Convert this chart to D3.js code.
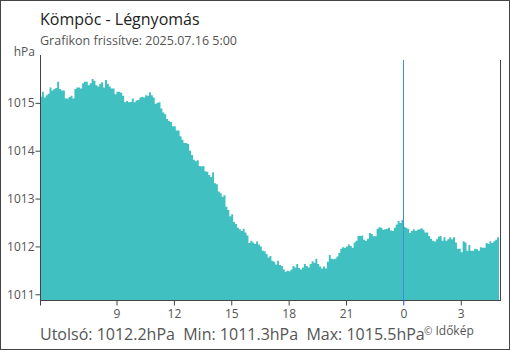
<!DOCTYPE html>
<html><head><meta charset="utf-8">
<script src="https://cdn.jsdelivr.net/npm/d3@7"></script>
<style>
html,body{margin:0;padding:0;background:#fff;}
svg{display:block;font-family:"Open Sans",sans-serif;}
</style></head>
<body><svg id="c" width="510" height="350"></svg>
<script>
const title = "Kömpöc - Légnyomás";
const subtitle = "Grafikon frissítve: 2025.07.16 5:00";
const unit = "hPa";
const startTime = new Date(2025, 6, 15, 5, 0);
const endTime = new Date(2025, 6, 16, 5, 0);
const stepMinutes = 6;
// pressure readings (hPa), one per 6 minutes from 2025.07.15 5:00
const pressure = [
1015.13,1015.23,1015.11,1015.16,1015.19,1015.32,1015.26,1015.29,1015.31,1015.44,
1015.29,1015.26,1015.26,1015.09,1015.09,1015.12,1015.15,1015.09,1015.29,1015.32,
1015.32,1015.30,1015.41,1015.44,1015.44,1015.37,1015.41,1015.50,1015.46,1015.37,
1015.34,1015.40,1015.43,1015.32,1015.48,1015.40,1015.34,1015.30,1015.30,1015.18,
1015.23,1015.23,1015.21,1015.15,1015.01,1015.04,1015.01,1015.02,1015.09,1015.01,
1015.05,1015.06,1015.11,1015.13,1015.11,1015.16,1015.15,1015.22,1015.16,1015.11,
1014.98,1015.00,1015.01,1014.88,1014.80,1014.76,1014.66,1014.62,1014.60,1014.51,
1014.51,1014.42,1014.42,1014.30,1014.23,1014.16,1014.16,1014.14,1014.00,1013.91,
1013.81,1013.78,1013.80,1013.68,1013.67,1013.68,1013.57,1013.56,1013.49,1013.45,
1013.55,1013.32,1013.30,1013.15,1013.11,1013.04,1013.07,1012.83,1012.76,1012.63,
1012.67,1012.51,1012.47,1012.39,1012.36,1012.32,1012.37,1012.29,1012.23,1012.07,
1012.12,1012.08,1012.05,1012.10,1012.04,1012.00,1011.91,1011.90,1011.84,1011.77,
1011.80,1011.70,1011.68,1011.62,1011.70,1011.61,1011.59,1011.52,1011.47,1011.49,
1011.48,1011.52,1011.59,1011.56,1011.63,1011.55,1011.52,1011.56,1011.63,1011.59,
1011.56,1011.63,1011.69,1011.66,1011.74,1011.63,1011.58,1011.54,1011.58,1011.54,
1011.68,1011.82,1011.74,1011.73,1011.74,1011.79,1011.86,1011.95,1011.98,1011.97,
1012.00,1012.04,1012.01,1011.97,1012.08,1012.12,1012.22,1012.22,1012.23,1012.14,
1012.12,1012.16,1012.28,1012.26,1012.21,1012.21,1012.37,1012.40,1012.39,1012.35,
1012.36,1012.37,1012.39,1012.33,1012.32,1012.39,1012.46,1012.53,1012.49,1012.55,
1012.41,1012.39,1012.37,1012.28,1012.32,1012.36,1012.32,1012.35,1012.36,1012.38,
1012.35,1012.29,1012.29,1012.22,1012.16,1012.12,1012.10,1012.15,1012.20,1012.22,
1012.12,1012.19,1012.12,1012.15,1012.19,1012.15,1012.19,1012.08,1011.95,1011.95,
1011.88,1012.11,1012.08,1011.91,1012.03,1011.91,1011.91,1011.95,1011.94,1011.91,
1011.98,1011.97,1011.97,1012.07,1012.05,1012.11,1012.07,1012.11,1012.14,1012.19
];
const yTicks = [1011, 1012, 1013, 1014, 1015];
const xTickHours = [9, 12, 15, 18, 21, 0, 3];
const yDomain = [1010.88, 1016];
const stats = ["Utolsó: 1012.2hPa", "Min: 1011.3hPa", "Max: 1015.5hPa"];
const credit = "Időkép";

const svg = d3.select("#c");
const W = 510, H = 350;
const L = 40, R = 499, T = 55, B = 300;

const data = pressure.map((v, i) => ({t: new Date(startTime.getTime() + i * stepMinutes * 60000), v}));
data.push({t: endTime, v: pressure[pressure.length - 1]});

const x = d3.scaleTime().domain([startTime, endTime]).range([L, R]);
const y = d3.scaleLinear().domain(yDomain).range([B, T]);

// frame
svg.append("rect").attr("x", 0.5).attr("y", 0.5).attr("width", W - 1).attr("height", H - 1)
  .attr("fill", "#fff").attr("stroke", "#444").attr("stroke-width", 1);

// area
const area = d3.area().curve(d3.curveStepAfter)
  .x(d => x(d.t)).y0(B).y1(d => y(d.v));
svg.append("path").datum(data).attr("d", area).attr("fill", "#41c0c2");

// vertical lines: midnight (blue) and end (dark)
const midnight = new Date(2025, 6, 16, 0, 0);
svg.append("line").attr("x1", Math.round(x(midnight)) + 0.5).attr("x2", Math.round(x(midnight)) + 0.5)
  .attr("y1", 60).attr("y2", 305).attr("stroke", "#3d8fd1").attr("stroke-width", 1);
svg.append("line").attr("x1", 500.5).attr("x2", 500.5).attr("y1", 60).attr("y2", 300)
  .attr("stroke", "#444").attr("stroke-width", 1);

// y axis
const yAxis = d3.axisLeft(y).tickValues(yTicks).tickSize(5).tickPadding(1).tickFormat(d3.format("d"));
const gy = svg.append("g").attr("transform", `translate(${L + 0.5},0)`).call(yAxis);
gy.select(".domain").attr("d", `M0,${T}V${B}`).attr("stroke", "#444");
gy.selectAll(".tick line").attr("stroke", "#444");
gy.selectAll(".tick text").attr("fill", "#555").style("font-size", "12px").style("font-family", "Open Sans");

// x axis
const tickDates = [startTime].concat(xTickHours.map(h => new Date(2025, 6, h < 5 ? 16 : 15, h, 0)));
const xAxis = d3.axisBottom(x).tickValues(tickDates).tickSize(5).tickPadding(4)
  .tickFormat(d => d.getTime() === startTime.getTime() ? "" : String(d.getHours()));
const gx = svg.append("g").attr("transform", `translate(0,${B + 0.5})`).call(xAxis);
gx.select(".domain").attr("d", `M${L},0H${R + 2}`).attr("stroke", "#444");
gx.selectAll(".tick line").attr("stroke", d => d.getTime() === midnight.getTime() ? "#3d8fd1" : "#444");
gx.selectAll(".tick text").attr("fill", "#555").style("font-size", "12px").style("font-family", "Open Sans");

// texts
svg.append("text").attr("x", 40).attr("y", 25).text(title)
  .attr("fill", "#222").style("font-size", "16px");
svg.append("text").attr("x", 40).attr("y", 45).text(subtitle)
  .attr("fill", "#555").style("font-size", "12.5px");
svg.append("text").attr("x", 35).attr("y", 56).attr("text-anchor", "end").text(unit)
  .attr("fill", "#555").style("font-size", "12px");
svg.append("text").attr("x", 40).attr("y", 340).style("white-space", "pre")
  .text(stats.join("  ")).attr("fill", "#555").style("font-size", "16px");
const cr = svg.append("text").attr("x", 424).attr("y", 335).attr("fill", "#555");
cr.append("tspan").text("©").style("font-size", "10px");
cr.append("tspan").text(" " + credit).style("font-size", "12px");
</script></body></html>
